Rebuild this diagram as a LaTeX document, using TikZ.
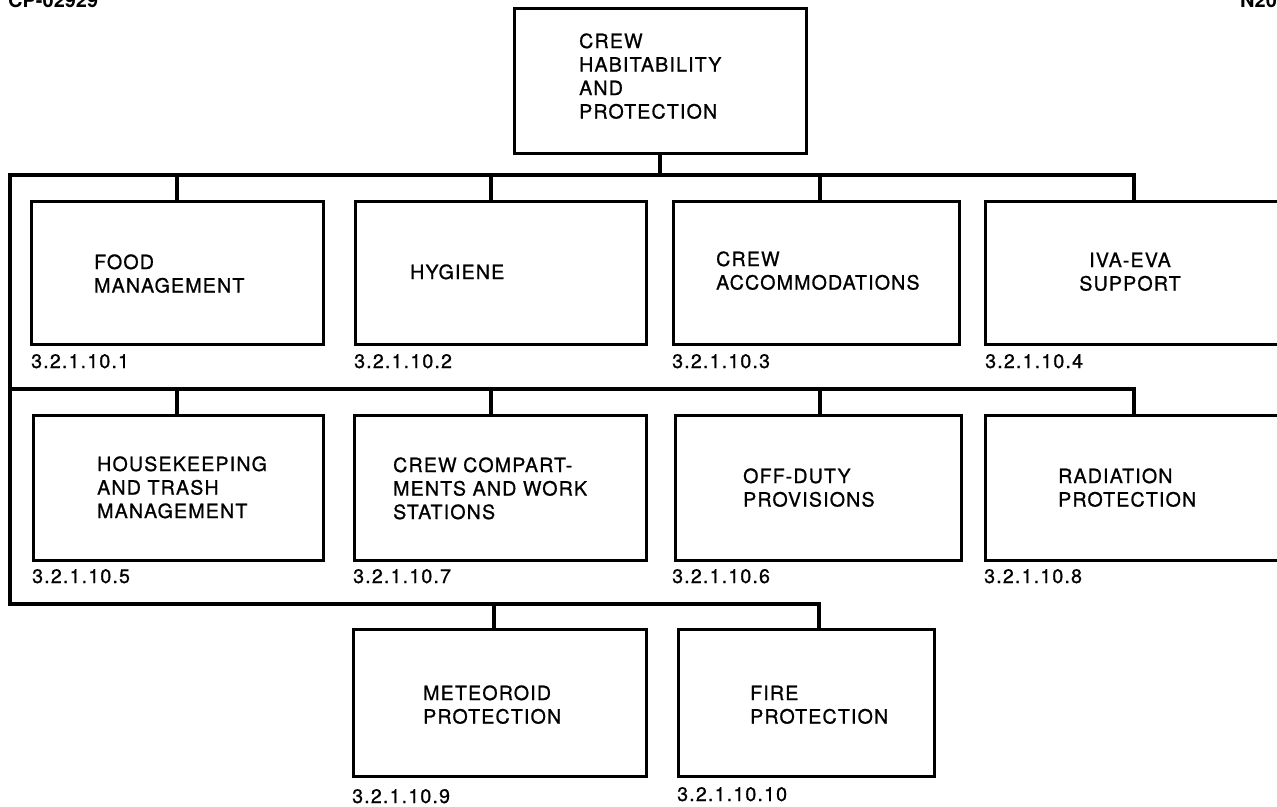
\documentclass[tikz,border=0pt]{standalone}
\usepackage{fontspec}
\setmainfont{TeX Gyre Heros}
\newfontfamily\chartfont[LetterSpace=6,FakeBold=0.9]{TeX Gyre Heros}
\newcommand{\txt}{\chartfont\fontsize{19.6}{23.5}\selectfont}
\newcommand{\hdr}{\bfseries\fontsize{20}{23.5}\selectfont}
% left-aligned block whose reference point is the baseline of its first line
\newcommand{\stackl}[1]{\begin{tabular}[t]{@{}l@{}}#1\end{tabular}}
\newcommand{\stackc}[1]{\begin{tabular}[t]{@{}c@{}}#1\end{tabular}}
\begin{document}
\begin{tikzpicture}[x=1pt,y=-1pt,
  box/.style={draw, line width=2.6pt, rectangle, anchor=north west, inner sep=0pt},
  bus/.style={draw, line width=4pt, line join=miter},
  words/.style={anchor=base west, inner sep=0pt, font=\txt},
  cwords/.style={anchor=base, inner sep=0pt, font=\txt},
  code/.style={anchor=base west, inner sep=0pt, font=\txt}]
\useasboundingbox (0,0) rectangle (1277,806);
\fill[white] (0,0) rectangle (1277,806);

% sheet references at the top edge
\node[anchor=base west, inner sep=0pt, font=\hdr] (sheet) at (8,7) {CP-02929};
\node[anchor=base west, inner sep=0pt, font=\hdr] (fig) at (1240,7) {N20};

% boxes
\node[box, minimum width=292pt, minimum height=145pt] (top) at (513,7) {};

\node[box, minimum width=292pt, minimum height=143pt] (food) at (30,200) {};
\node[box, minimum width=291pt, minimum height=143pt] (hyg)  at (354,200) {};
\node[box, minimum width=286pt, minimum height=143pt] (acc)  at (672,200) {};
\node[box, minimum width=330pt, minimum height=143pt] (iva)  at (984,200) {};

\node[box, minimum width=290pt, minimum height=145pt] (house) at (32,414) {};
\node[box, minimum width=292pt, minimum height=145pt] (comp)  at (353,414) {};
\node[box, minimum width=286pt, minimum height=145pt] (off)   at (674,414) {};
\node[box, minimum width=330pt, minimum height=145pt] (rad)   at (984,414) {};

\node[box, minimum width=293pt, minimum height=147pt] (met)  at (352,628) {};
\node[box, minimum width=256pt, minimum height=147pt] (fire) at (677,628) {};

% box titles
\node[words] (ttop) at (579,48) {\stackl{CREW\\HABITABILITY\\AND\\PROTECTION}};
\node[words] (tfood) at (94,269) {\stackl{FOOD\\MANAGEMENT}};
\node[words] (thyg) at (410,279) {HYGIENE};
\node[words] (tacc) at (716,266) {\stackl{CREW\\ACCOMMODATIONS}};
\node[cwords] (tiva) at (1130,267) {\stackc{IVA-EVA\\SUPPORT}};
\node[words] (thouse) at (97,471) {\stackl{HOUSEKEEPING\\AND TRASH\\MANAGEMENT}};
\node[words] (tcomp) at (393,472) {\stackl{CREW COMPART-\\MENTS AND WORK\\STATIONS}};
\node[words] (toff) at (743,483) {\stackl{OFF-DUTY\\PROVISIONS}};
\node[words] (trad) at (1058,483) {\stackl{RADIATION\\PROTECTION}};
\node[words] (tmet) at (423,700) {\stackl{METEOROID\\PROTECTION}};
\node[words] (tfire) at (750,700) {\stackl{FIRE\\PROTECTION}};

% index numbers under the boxes
\node[code] (cfood) at (31,368) {3.2.1.10.1};
\node[code] (chyg)  at (354,368) {3.2.1.10.2};
\node[code] (cacc)  at (672,368) {3.2.1.10.3};
\node[code] (civa)  at (985,368) {3.2.1.10.4};
\node[code] (chouse) at (32,583) {3.2.1.10.5};
\node[code] (ccomp)  at (353,583) {3.2.1.10.7};
\node[code] (coff)   at (672,583) {3.2.1.10.6};
\node[code] (crad)   at (984,583) {3.2.1.10.8};
\node[code] (cmet)   at (352,803) {3.2.1.10.9};
\node[code] (cfire)  at (677,801) {3.2.1.10.10};

% bus lines
\coordinate (b1) at (10,175);
\coordinate (b2) at (10,389);
\coordinate (b3) at (10,604);
\coordinate (e1) at (1134,175);
\coordinate (e2) at (1134,389);
\coordinate (e3) at (819,604);
\coordinate (sa) at (177,0);
\coordinate (sb) at (491,0);
\coordinate (sc) at (820,0);
\coordinate (sd) at (494,0);

\draw[bus] (top.south) -- (top.south |- b1);
\draw[bus] (iva.north -| e1) -- (e1) -- (b1) -- (b3) -- (e3) -- (fire.north -| e3);
\draw[bus] (b2) -- (e2) -- (rad.north -| e2);

\draw[bus] (sa |- b1) -- (sa |- food.north);
\draw[bus] (sb |- b1) -- (sb |- hyg.north);
\draw[bus] (sc |- b1) -- (sc |- acc.north);
\draw[bus] (sa |- b2) -- (sa |- house.north);
\draw[bus] (sb |- b2) -- (sb |- comp.north);
\draw[bus] (sc |- b2) -- (sc |- off.north);
\draw[bus] (sd |- b3) -- (sd |- met.north);
\end{tikzpicture}
\end{document}
